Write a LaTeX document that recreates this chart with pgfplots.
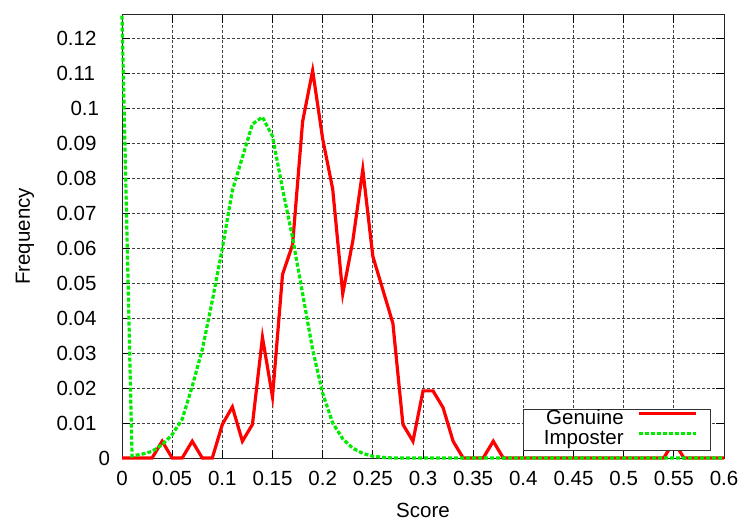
\documentclass[border=0pt]{standalone}
\usepackage{fontspec}
\setmainfont{Liberation Sans}
\usepackage{pgfplots}
\pgfplotsset{compat=1.18}
\usetikzlibrary{calc}
\definecolor{gred}{RGB}{255,0,0}
\definecolor{ggreen}{RGB}{0,235,0}
\newcommand{\yl}[2]{\hbox to #1pt{#2\hfil}}
\begin{document}
\fontsize{10.25}{12.3}\selectfont
\begin{tikzpicture}
\begin{axis}[
  scale only axis, width=301pt, height=221.5pt,
  xmin=0, xmax=0.6, ymin=0, ymax=0.1267,
  clip=false,
  xtick={0,0.05,0.1,0.15,0.2,0.25,0.3,0.35,0.4,0.45,0.5,0.55,0.6},
  ytick={0,0.01,0.02,0.03,0.04,0.05,0.06,0.07,0.08,0.09,0.1,0.11,0.12},
  yticklabels={\yl{7}{0},\yl{28}{0.01},\yl{28}{0.02},\yl{28}{0.03},\yl{28}{0.04},\yl{28}{0.05},\yl{28}{0.06},\yl{28}{0.07},\yl{28}{0.08},\yl{28}{0.09},\yl{21}{0.1},\yl{28}{0.11},\yl{28}{0.12}},
  /pgf/number format/assume math mode=true,
  /pgf/number format/fixed, /pgf/number format/precision=2,
  scaled ticks=false,
  tick align=inside, major tick length=4pt,
  tick style={black, line width=0.5pt},
  axis line style={black!85, line width=0.5pt},
  grid=major,
  major grid style={black!75, line width=0.45pt, dash pattern=on 1.5pt off 1pt},
  xticklabel style={anchor=base, yshift=-13.7pt, inner sep=0pt},
  yticklabel style={anchor=east, xshift=-4.5pt, inner sep=0pt},
  xlabel={Score}, ylabel={Frequency},
  every axis x label/.style={at={(rel axis cs:0.5,0)}, yshift=-26pt, anchor=center},
  every axis y label/.style={at={(rel axis cs:0,0.5)}, xshift=-48.5pt, rotate=90, anchor=center},
  legend plot pos=right,
  legend cell align=right,
  legend image code/.code={\draw[#1] (0pt,2.85pt) -- (28.8pt,2.85pt);},
  legend style={at={(1,0)}, anchor=south east, xshift=-6.65pt, yshift=3.8pt,
    draw=black!80, line width=0.4pt, fill=white,
    inner xsep=6.2pt, inner ysep=0.5pt, column sep=6.7pt, row sep=0.5pt,
    nodes={inner sep=0pt, text height=7.2pt, text depth=2.3pt}},
]
\addplot[gred, line width=1.6pt, line join=miter] coordinates {
(0,0) (0.01,0) (0.02,0) (0.03,0) (0.04,0.0048) (0.05,0) (0.06,0) (0.07,0.0048)
(0.08,0) (0.09,0) (0.10,0.0096) (0.11,0.0146) (0.12,0.0048) (0.13,0.0096)
(0.14,0.0345) (0.15,0.0175) (0.16,0.0525) (0.17,0.061) (0.18,0.0962) (0.19,0.1108)
(0.20,0.0913) (0.21,0.0769) (0.22,0.047) (0.23,0.062) (0.24,0.0825) (0.25,0.0577)
(0.26,0.0481) (0.27,0.0385) (0.28,0.0096) (0.29,0.0048) (0.30,0.0192) (0.31,0.0192)
(0.32,0.0144) (0.33,0.0048) (0.34,0) (0.35,0) (0.36,0) (0.37,0.0048) (0.38,0)
(0.39,0) (0.40,0) (0.41,0) (0.42,0) (0.43,0) (0.44,0) (0.45,0) (0.46,0) (0.47,0)
(0.48,0) (0.49,0) (0.50,0) (0.51,0) (0.52,0) (0.53,0) (0.54,0) (0.55,0.0048)
(0.56,0) (0.57,0) (0.58,0) (0.59,0) (0.60,0)
};
\addlegendentry{Genuine}
\addplot[ggreen, line width=1.6pt, dash pattern=on 2pt off 1pt] coordinates {
(0,0.1265) (0.01,0.0006) (0.02,0.0011) (0.03,0.0019) (0.04,0.0038) (0.05,0.0067)
(0.06,0.0111) (0.07,0.0205) (0.08,0.031) (0.09,0.045) (0.10,0.060) (0.11,0.0765)
(0.12,0.086) (0.13,0.0955) (0.14,0.0975) (0.15,0.092) (0.16,0.077) (0.17,0.063)
(0.18,0.047) (0.19,0.031) (0.20,0.0185) (0.21,0.010) (0.22,0.0055) (0.23,0.0028)
(0.24,0.0013) (0.25,0.0005) (0.26,0.0002) (0.27,0) (0.3,0) (0.35,0) (0.4,0)
(0.45,0) (0.5,0) (0.55,0) (0.6,0)
};
\addlegendentry{\hspace*{4.1pt}Imposter}
\end{axis}
\pgfresetboundingbox
\path[use as bounding box] ($(current axis.south west)+(-61pt,-31pt)$) rectangle ($(current axis.north east)+(9pt,7.5pt)$);
\end{tikzpicture}
\end{document}
